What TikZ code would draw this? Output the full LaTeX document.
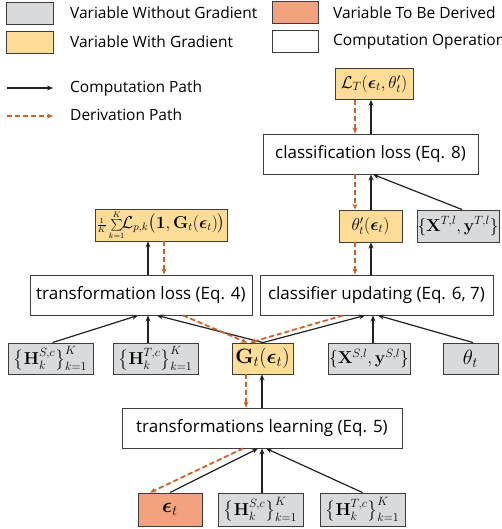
\documentclass[tikz,border=0pt]{standalone}
\usepackage{amsmath,amssymb}
\usepackage[no-math]{fontspec}
\setmainfont{Open Sans}
\usetikzlibrary{calc, arrows.meta}

\definecolor{cgray}{HTML}{D9DADC}
\definecolor{cyellow}{HTML}{FDDC98}
\definecolor{csalmon}{HTML}{F2A27E}
\definecolor{corange}{HTML}{C9632A}
\definecolor{cline}{HTML}{222222}
\definecolor{boxline}{HTML}{3C3C3C}

\tikzset{
  font=\fontsize{17}{20}\selectfont,
  % Set arrowhead
  >={Stealth[length=6pt,width=5pt]},
  % Any box
  vbox/.style={draw=boxline, line width=0.9pt, inner sep=0pt,
    minimum height=31pt},
  % Variable without gradient
  cvar/.style={vbox, fill=cgray},
  % Variable with gradient
  gvar/.style={vbox, fill=cyellow},
  % Variable to be derived
  dvar/.style={vbox, fill=csalmon},
  % Computation operation
  onode/.style={vbox, fill=white, minimum height=40pt},
  % Larger math for single symbols
  bigm/.style={font=\fontsize{20.5}{24}\selectfont},
  % Legend entries
  ltext/.style={anchor=west, inner sep=0pt,
    font=\fontsize{15.5}{18}\selectfont},
  % Paths
  cpath/.style={->, line width=1.2pt, draw=cline},
  dpath/.style={->, line width=1.8pt, draw=corange, fill=corange,
    dash pattern=on 5pt off 3pt},
}

\begin{document}
\begin{tikzpicture}[x=1pt, y=-1pt]

  \useasboundingbox[fill=white] (0,0) rectangle (501,529);

  % Legend
  \node[cvar, minimum width=47pt, minimum height=22pt] (lgray) at (29.5,13) {};
  \node[gvar, minimum width=47pt, minimum height=22pt] (lyellow) at (29.5,42) {};
  \node[dvar, minimum width=46pt, minimum height=22pt] (lsalmon) at (295,12) {};
  \node[onode, minimum width=46pt, minimum height=22pt] (lwhite) at (295,41) {};
  \node[ltext] (tgray) at (70,13) {Variable Without Gradient};
  \node[ltext] (tyellow) at (70,42) {Variable With Gradient};
  \node[ltext] (tsalmon) at (333,13) {Variable To Be Derived};
  \node[ltext] (twhite) at (333,42) {Computation Operation};

  \coordinate (la1) at (7,88);
  \coordinate (la2) at (53,88);
  \coordinate (lb1) at (7,116);
  \coordinate (lb2) at (53,116);
  \draw[cpath] (la1) -- (la2);
  \draw[dpath] (lb1) -- (lb2);
  \node[ltext] (tcomp) at (70,88) {Computation Path};
  \node[ltext] (tderiv) at (70,115) {Derivation Path};

  % Top branch
  \node[gvar, minimum width=78pt] (lt) at (374,84)
    {$\mathcal{L}_T(\boldsymbol{\epsilon}_t,\theta'_t)$};
  \node[onode, minimum width=215pt] (closs) at (370.5,154)
    {classification loss (Eq. 8)};
  \node[gvar, minimum width=63pt, minimum height=32pt] (thp) at (370.5,226)
    {$\theta'_t(\boldsymbol{\epsilon}_t)$};
  \node[cvar, minimum width=82pt, minimum height=32pt] (xt) at (458,226)
    {$\{\mathbf{X}^{T,l},\mathbf{y}^{T,l}\}$};
  \node[gvar, minimum width=132pt, minimum height=32pt] (psum) at (161,225)
    {{\fontsize{11.5}{13}\selectfont$\frac{1}{K}\sum\limits_{k=1}^{K}$}%
     \fontsize{16}{18}\selectfont
     $\!\mathcal{L}_{p,k}\big(\mathbf{1},
      \mathbf{G}_t(\boldsymbol{\epsilon}_t)\big)$};

  % Middle operations
  \node[onode, minimum width=222pt] (tloss) at (141,295)
    {transformation loss (Eq. 4)};
  \node[onode, minimum width=233pt] (cupd) at (376.5,295)
    {classifier updating (Eq. 6, 7)};

  % Inputs of the middle operations
  \node[cvar, minimum width=85pt] (hs1) at (50.5,358.5)
    {$\big\{\mathbf{H}_k^{S,c}\big\}_{k=1}^{K}$};
  \node[cvar, minimum width=85pt] (ht1) at (155.5,358.5)
    {$\big\{\mathbf{H}_k^{T,c}\big\}_{k=1}^{K}$};
  \node[gvar, bigm, minimum width=61pt] (g) at (262.5,358.5)
    {$\mathbf{G}_t(\boldsymbol{\epsilon}_t)$};
  \node[cvar, minimum width=82pt] (xs) at (369,358.5)
    {$\{\mathbf{X}^{S,l},\mathbf{y}^{S,l}\}$};
  \node[cvar, bigm, minimum width=55pt] (th) at (470.5,358.5) {$\theta_t$};

  % Bottom
  \node[onode, minimum width=280pt] (tl) at (262,428)
    {transformations learning (Eq. 5)};
  \node[dvar, bigm, minimum width=64pt, minimum height=33pt] (eps) at (170,509.5)
    {$\boldsymbol{\epsilon}_t$};
  \node[cvar, minimum width=85pt, minimum height=33pt] (hs2) at (260.5,509.5)
    {$\big\{\mathbf{H}_k^{S,c}\big\}_{k=1}^{K}$};
  \node[cvar, minimum width=85pt, minimum height=33pt] (ht2) at (362.5,509.5)
    {$\big\{\mathbf{H}_k^{T,c}\big\}_{k=1}^{K}$};

  % Computation paths
  \draw[cpath] ([xshift=0.5pt]closs.north) -- ([xshift=-3pt]lt.south);
  \draw[cpath] ([xshift=0.5pt]thp.north) -- ([xshift=0.5pt]closs.south);
  \draw[cpath] ([xshift=4pt]xt.north) -- ([xshift=2.5pt]closs.south);
  \draw[cpath] ([xshift=-5.5pt]cupd.north) -- ([xshift=0.5pt]thp.south);
  \draw[cpath] ([xshift=7pt]tloss.north) -- ([xshift=-13pt]psum.south);
  \draw[cpath] ([xshift=2pt]hs1.north) -- ([xshift=-3pt]tloss.south);
  \draw[cpath] ([xshift=-7.5pt]ht1.north) -- ([xshift=7pt]tloss.south);
  \draw[cpath] ([xshift=0.5pt]g.north) -- ([xshift=16pt]tloss.south);
  \draw[cpath] ([xshift=0.5pt]g.north) -- ([xshift=-11.5pt]cupd.south);
  \draw[cpath] ([xshift=4pt]xs.north) -- ([xshift=-3.5pt]cupd.south);
  \draw[cpath] ([xshift=2.5pt]th.north) -- ([xshift=1.5pt]cupd.south);
  \draw[cpath] (tl.north) -- ([xshift=-0.5pt]g.south);
  \draw[cpath] (eps.north) -- ([xshift=-4pt]tl.south);
  \draw[cpath] ([xshift=1.5pt]hs2.north) -- (tl.south);
  \draw[cpath] (ht2.north) -- ([xshift=4pt]tl.south);

  % Derivation paths
  \draw[dpath] ([xshift=-19pt]lt.south) -- ([xshift=-15.5pt]closs.north);
  \draw[dpath] ([xshift=-15.5pt]closs.south) -- ([xshift=-15.5pt]thp.north);
  \draw[dpath] ([xshift=-15.5pt]thp.south) -- ([xshift=-21.5pt]cupd.north);
  \draw[dpath] ([xshift=3pt]psum.south) -- ([xshift=23pt]tloss.north);
  \draw[dpath] ([xshift=42pt]tloss.south) -- ([xshift=-15.5pt]g.north);
  \draw[dpath] ([xshift=-33.5pt]cupd.south) -- ([xshift=-12.5pt]g.north);
  \draw[dpath] ([xshift=-16.5pt]g.south) -- ([xshift=-16pt]tl.north);
  \draw[dpath] ([xshift=-19pt]tl.south) -- ([xshift=-20pt]eps.north);

\end{tikzpicture}
\end{document}
